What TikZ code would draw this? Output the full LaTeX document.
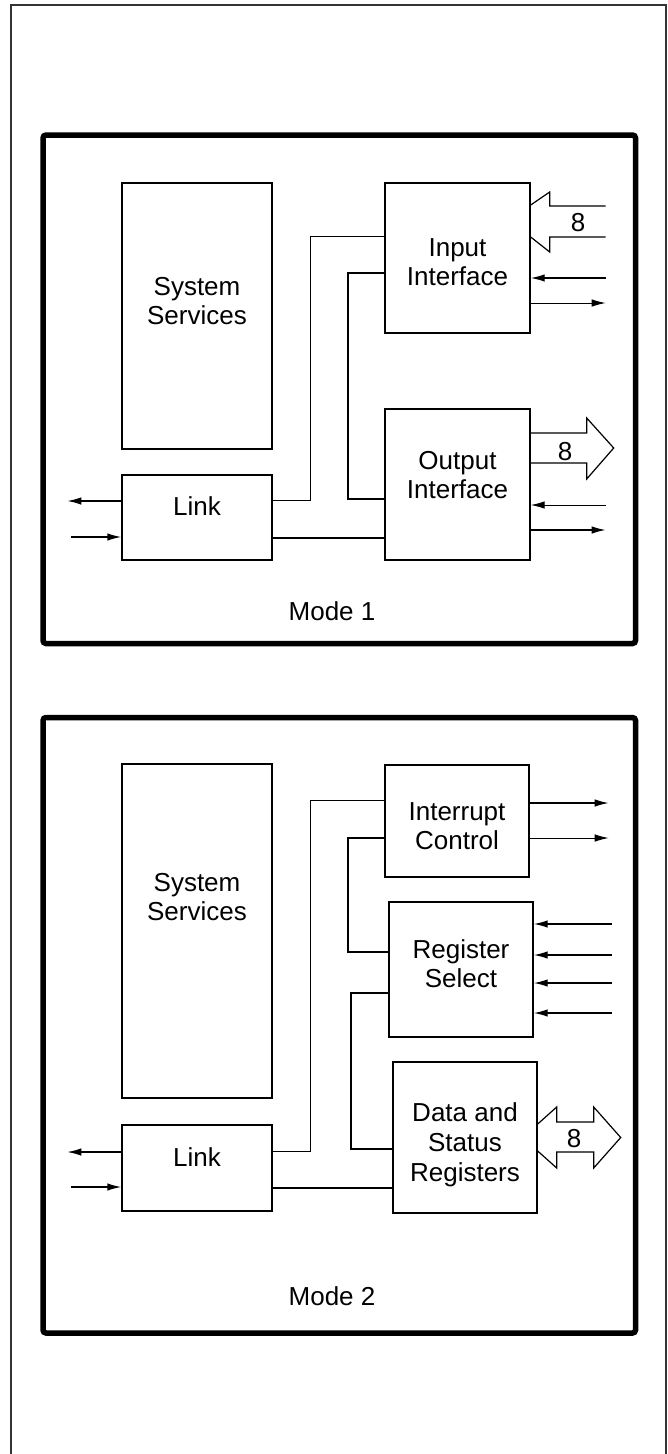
\documentclass[tikz,border=0pt]{standalone}
\usepackage{fontspec}
\setmainfont{Liberation Sans}
\usetikzlibrary{arrows.meta, calc}
\tikzset{>={Latex[length=14pt, width=7.5pt]}}

\begin{document}
\begin{tikzpicture}[
  x=1pt, y=-1pt,
  blk/.style={draw, line width=1.4pt, inner sep=0pt},
  lbl/.style={font=\fontsize{26}{29}\selectfont, align=center, inner sep=0pt},
  modeframe/.style={line width=5.5pt, rounded corners=3pt},
  thinwire/.style={line width=0.9pt},
  boldwire/.style={line width=1.8pt},
  sig/.style={->, line width=1.4pt},
  bus/.style={line width=1.2pt, line join=miter}
]
\useasboundingbox (0,0) rectangle (668,1454);

% Page border (open at the bottom)
\draw[line width=1.5pt, black!80] (11,1470) -- (11,5) -- (666,5) -- (666,1470);

% Mode frames
\draw[modeframe] (43,135) rectangle (635.5,643.5);
\draw[modeframe] (43,717.5) rectangle (635.5,1333);

% ---------------- Mode 1 ----------------
\node[blk, minimum width=150, minimum height=266] (sys1) at (197,316) {};
\node[lbl] (sys1t) at (197,301) {System\\Services};

\node[blk, minimum width=145, minimum height=150] (in1) at (457.5,258) {};
\node[lbl] (in1t) at (457.5,262) {Input\\Interface};

\node[blk, minimum width=145, minimum height=151] (out1) at (457.5,484.5) {};
\node[lbl] (out1t) at (457.5,475) {Output\\Interface};

\node[blk, minimum width=150, minimum height=85] (link1) at (197,517.5) {};
\node[lbl] (link1t) at (197,506.5) {Link};

\node[lbl] (mode1) at (332,611) {Mode 1};

% Internal connections
\draw[thinwire] (link1.east |- 0,500) -| (310,236) -- (in1.west |- 0,236);
\draw[boldwire] (in1.west |- 0,273) -| (348,499) -- (out1.west |- 0,499);
\draw[boldwire] (link1.east |- 0,538) -- (out1.west |- 0,538);

% Link lines
\draw[sig] (link1.west |- 0,501) -- ++(-54,0);
\draw[sig] (link1.west |- 0,537) ++(-50,0) -- (link1.west |- 0,537);

% Input side: 8 bit bus and two lines
\draw[bus] (in1.east |- 0,205) -- ++(19,-13) -- ++(0,14) -- ++(56,0);
\draw[bus] (in1.east |- 0,237) -- ++(19,15) -- ++(0,-15) -- ++(56,0);
\node[lbl] (in1bus) at (578,223) {8};
\draw[sig] (in1.east |- 0,278) ++(75,0) -- (in1.east |- 0,278);
\draw[sig, line width=1pt] (in1.east |- 0,303) -- ++(75,0);

% Output side: 8 bit bus and two lines
\draw[bus] (out1.east |- 0,433) -- ++(56,0) -- ++(0,-15) -- ++(27,30)
  -- ++(-27,31) -- ++(0,-16) -- (out1.east |- 0,463);
\node[lbl] (out1bus) at (565,452) {8};
\draw[sig, line width=1pt] (out1.east |- 0,505) ++(75,0) -- (out1.east |- 0,505);
\draw[sig] (out1.east |- 0,530) -- ++(75,0);

% ---------------- Mode 2 ----------------
\node[blk, minimum width=150, minimum height=334] (sys2) at (197,931) {};
\node[lbl] (sys2t) at (197,897) {System\\Services};

\node[blk, minimum width=144, minimum height=112] (int2) at (457,821) {};
\node[lbl] (int2t) at (457,826) {Interrupt\\Control};

\node[blk, minimum width=144, minimum height=135] (reg2) at (461,969.5) {};
\node[lbl] (reg2t) at (461,963.5) {Register\\Select};

\node[blk, minimum width=144, minimum height=151] (dat2) at (465,1137.5) {};
\node[lbl, font=\fontsize{26}{30}\selectfont] (dat2t) at (465,1145) {Data and\\Status\\Registers};

\node[blk, minimum width=150, minimum height=86] (link2) at (197,1168) {};
\node[lbl] (link2t) at (197,1157.5) {Link};

\node[lbl] (mode2) at (332,1296) {Mode 2};

% Internal connections
\draw[thinwire] (link2.east |- 0,1151) -| (310,800) -- (int2.west |- 0,800);
\draw[boldwire] (int2.west |- 0,838) -| (348,952) -- (reg2.west |- 0,952);
\draw[thinwire, line width=1.3pt] (reg2.west |- 0,993) -| (351,1149) -- (dat2.west |- 0,1149);
\draw[boldwire] (link2.east |- 0,1188) -- (dat2.west |- 0,1188);

% Link lines
\draw[sig] (link2.west |- 0,1152) -- ++(-54,0);
\draw[sig] (link2.west |- 0,1187) ++(-50,0) -- (link2.west |- 0,1187);

% Interrupt outputs
\draw[sig] (int2.east |- 0,803) -- ++(79,0);
\draw[sig, line width=1pt] (int2.east |- 0,838) -- ++(79,0);

% Register select inputs
\draw[sig] (reg2.east |- 0,924) ++(78,0) -- (reg2.east |- 0,924);
\draw[sig] (reg2.east |- 0,955) ++(78,0) -- (reg2.east |- 0,955);
\draw[sig] (reg2.east |- 0,983) ++(78,0) -- (reg2.east |- 0,983);
\draw[sig] (reg2.east |- 0,1013) ++(78,0) -- (reg2.east |- 0,1013);

% Data bus, both ways
\draw[bus] (dat2.east |- 0,1124) -- ++(19,-17) -- ++(0,15) -- ++(37,0) -- ++(0,-15)
  -- ++(27,30.5) -- ++(-27,30.5) -- ++(0,-16) -- ++(-37,0) -- ++(0,16) -- ++(-19,-17);
\node[lbl] (dat2bus) at (574,1139) {8};

\end{tikzpicture}
\end{document}
